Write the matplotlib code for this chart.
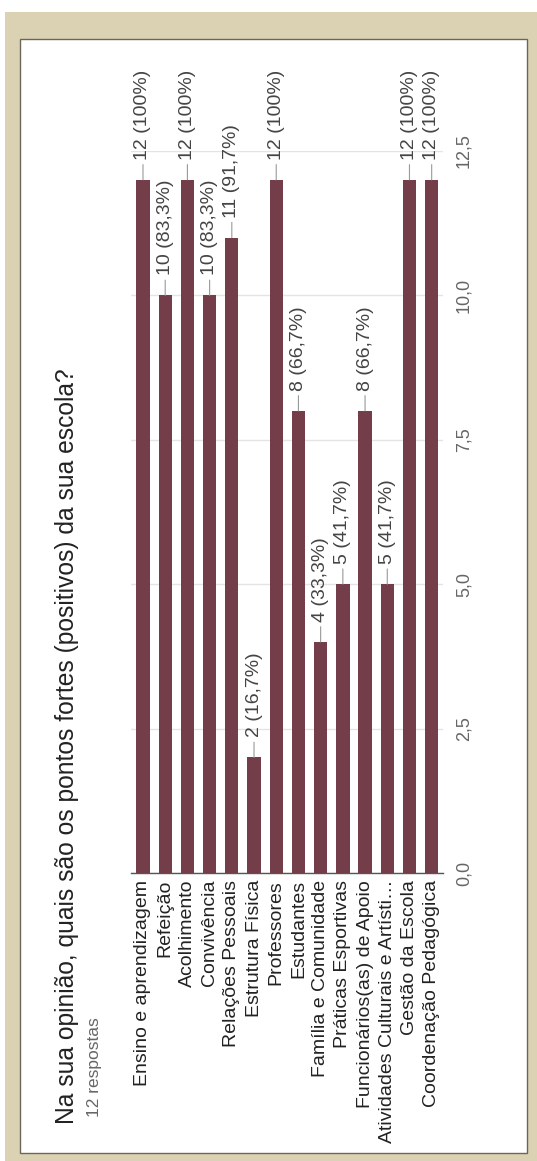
import numpy as np
import matplotlib.pyplot as plt
from matplotlib.patches import Rectangle

plt.rcParams['font.family'] = ['Liberation Sans', 'DejaVu Sans']

# dados
categorias = ["Ensino e aprendizagem", "Refeição", "Acolhimento", "Convivência",
              "Relações Pessoais", "Estrutura Física", "Professores", "Estudantes",
              "Família e Comunidade", "Práticas Esportivas", "Funcionários(as) de Apoio",
              "Atividades Culturais e Artísti…", "Gestão da Escola", "Coordenação Pedagógica"]
valores = [12, 10, 12, 10, 11, 2, 12, 8, 4, 5, 8, 5, 12, 12]
porcentagens = ["100%", "83,3%", "100%", "83,3%", "91,7%", "16,7%", "100%", "66,7%",
                "33,3%", "41,7%", "66,7%", "41,7%", "100%", "100%"]
ticks = [0, 2.5, 5, 7.5, 10, 12.5]
tick_labels = ["0,0", "2,5", "5,0", "7,5", "10,0", "12,5"]
titulo = "Na sua opinião, quais são os pontos fortes (positivos) da sua escola?"
subtitulo = "12 respostas"

W, H = 537, 1161
def fx(px):
    return px / W
def fy(py):
    return 1 - py / H

fig = plt.figure(figsize=(W / 100, H / 100), dpi=100)
fig.patch.set_facecolor('white')

# moldura bege e painel branco
fig.patches.append(Rectangle((fx(5), 0), fx(537) - fx(5), fy(12), transform=fig.transFigure,
                             facecolor='#dbd2b4', edgecolor='none', zorder=-3))
fig.patches.append(Rectangle((fx(20), fy(1153)), fx(527) - fx(20), fy(39) - fy(1153),
                             transform=fig.transFigure, facecolor='white',
                             edgecolor='#6b665a', lw=1, zorder=-2))

ax = fig.add_axes([fx(131), fy(873), fx(443) - fx(131), fy(151) - fy(873)])
ax.set_facecolor('none')

x = np.arange(len(categorias))
ax.bar(x, valores, width=0.6, color='#733d49', zorder=3)
ax.set_xlim(-0.54, 13.51)
ax.set_ylim(0, 12.5)

ax.set_yticks(ticks, tick_labels)
ax.yaxis.tick_right()
ax.yaxis.grid(True, color='#e4e4e4', lw=1)
ax.set_axisbelow(True)
ax.tick_params(axis='y', length=0, pad=9, labelsize=13, labelcolor='#666666', labelrotation=90)
for lbl in ax.get_yticklabels():
    lbl.set_va('center')

ax.set_xticks(x, categorias)
ax.tick_params(axis='x', length=0, pad=5, labelsize=14, labelcolor='#222222', labelrotation=90)
for lbl in ax.get_xticklabels():
    lbl.set_va('top')
    lbl.set_ha('center')

for s in ['top', 'left', 'right']:
    ax.spines[s].set_visible(False)
ax.spines['bottom'].set_color('#555555')
ax.spines['bottom'].set_linewidth(1)

for i, v in enumerate(valores):
    ax.annotate(f"{v} ({porcentagens[i]})", xy=(i, v), xytext=(0, 14.5),
                textcoords='offset points', rotation=90, ha='center', va='bottom',
                fontsize=14, color='#444444', annotation_clip=False,
                arrowprops=dict(arrowstyle='-', color='#999999', lw=0.8, shrinkA=1.5, shrinkB=0))

fig.text(fx(67), fy(1124), titulo, rotation=90, ha='center', va='bottom',
         fontsize=17.7, color='#222222')
fig.text(fx(95), fy(1117), subtitulo, rotation=90, ha='center', va='bottom',
         fontsize=12.5, color='#666666')

fig.savefig('out.png', dpi=100)
